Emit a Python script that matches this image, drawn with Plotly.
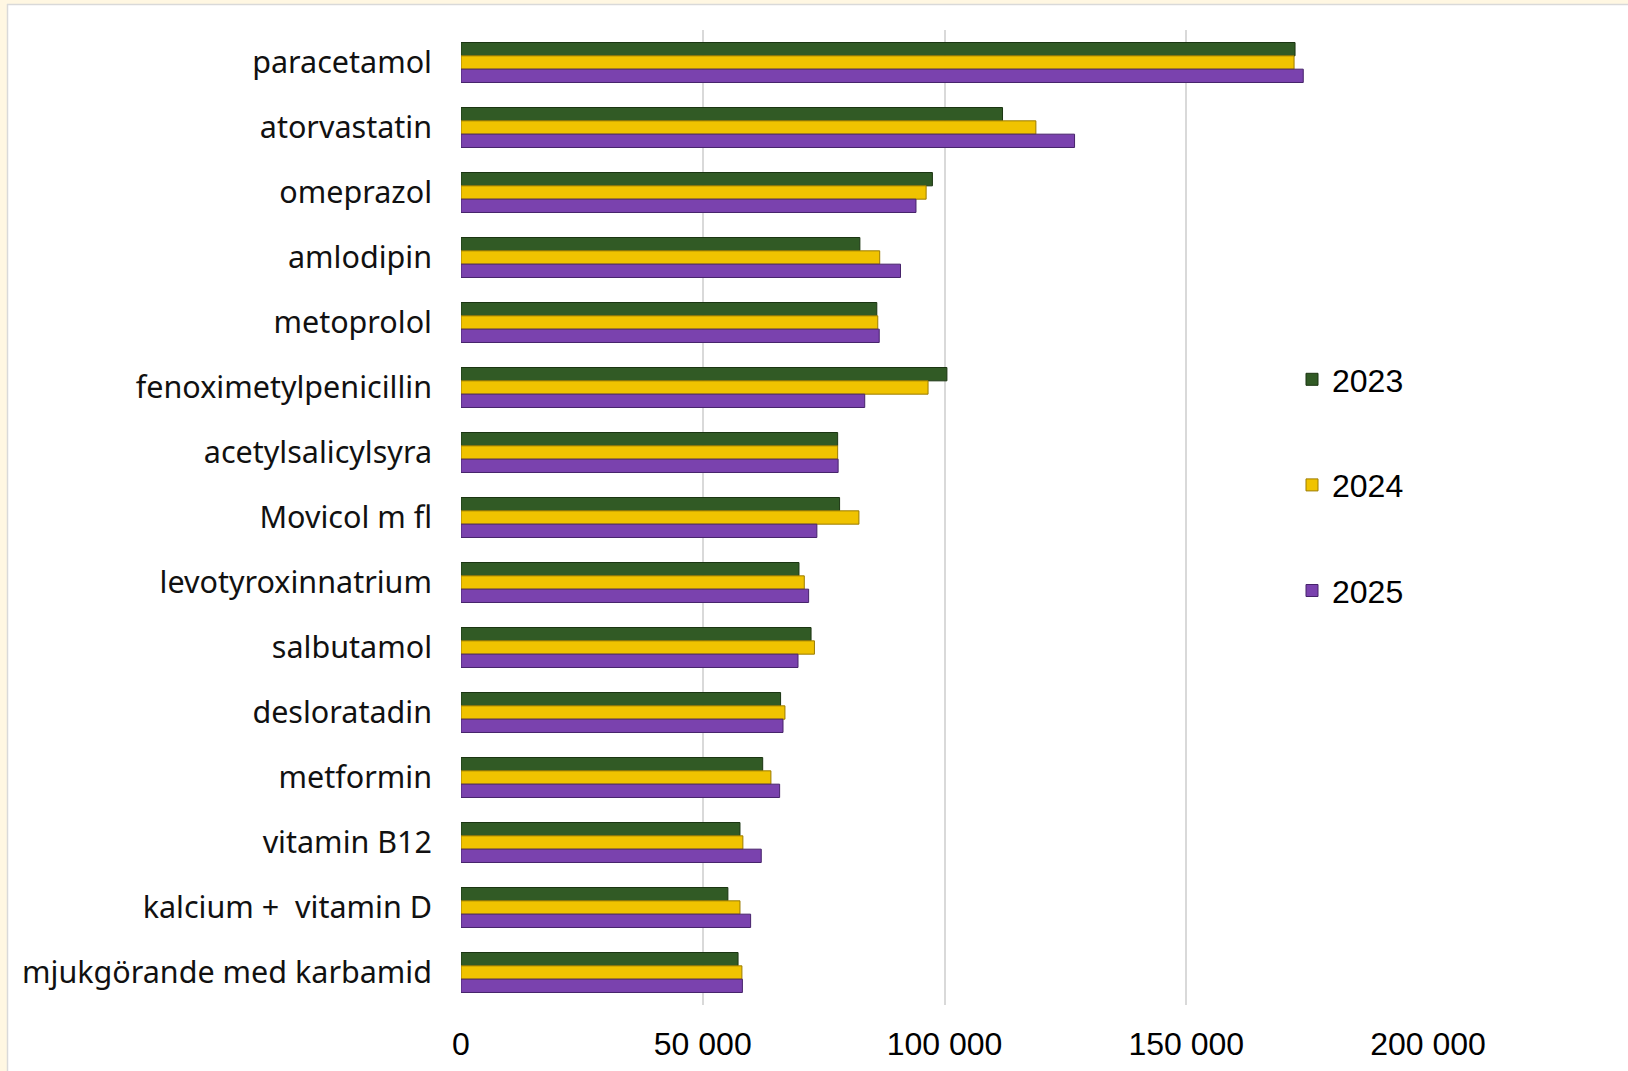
import plotly.graph_objects as go

categories = [
    "paracetamol", "atorvastatin", "omeprazol", "amlodipin", "metoprolol",
    "fenoximetylpenicillin", "acetylsalicylsyra", "Movicol m fl",
    "levotyroxinnatrium", "salbutamol", "desloratadin", "metformin",
    "vitamin B12", "kalcium +  vitamin D", "mjukgörande med karbamid",
]
years = ["2023", "2024", "2025"]
values_2023 = [172500, 112000, 97500, 82500, 86000, 100500, 77900, 78300,
               69900, 72400, 66100, 62400, 57700, 55200, 57300]
values_2024 = [172300, 118900, 96200, 86600, 86200, 96600, 77900, 82300,
               71000, 73100, 67000, 64100, 58300, 57700, 58100]
values_2025 = [174200, 126900, 94100, 90900, 86500, 83500, 78000, 73600,
               71900, 69700, 66600, 65900, 62100, 59900, 58200]
x_ticks = [0, 50000, 100000, 150000, 200000]
x_tick_labels = ["0", "50 000", "100 000", "150 000", "200 000"]

series = [values_2023, values_2024, values_2025]
fills = ["#315A25", "#F0C300", "#7A42AE"]
edges = ["#1B3512", "#9C7C00", "#46236B"]

W, H = 1628, 1071
ML, MR, MT, MB = 461, 200, 30, 66
PW = W - ML - MR
PH = H - MT - MB

def px_x(px):
    return (px - ML) / PW

def px_y(py):
    return (H - MB - py) / PH

fig = go.Figure()
for name, vals, c, e in zip(years, series, fills, edges):
    fig.add_trace(go.Bar(
        y=categories, x=vals, name=name, orientation="h",
        marker=dict(color=c, line=dict(color=e, width=1)),
        legendgroup=name,
    ))

cream = "#FFF7E2"
fig.update_layout(
    width=W, height=H,
    margin=dict(l=ML, r=MR, t=MT, b=MB, autoexpand=False),
    paper_bgcolor="white", plot_bgcolor="white",
    barmode="group", bargap=0.385, bargroupgap=0,
    font=dict(family="Liberation Sans, Arial, sans-serif", color="#000000"),
    xaxis=dict(
        range=[0, 200000], tickvals=x_ticks, ticktext=x_tick_labels,
        showgrid=True, gridcolor="#D9D9D9", gridwidth=1.5,
        zeroline=False, showline=False, ticks="", automargin=False,
        tickfont=dict(family="Liberation Sans, Arial, sans-serif", size=32, color="#000"),
        ticklabelstandoff=17,
    ),
    yaxis=dict(
        autorange="reversed", showgrid=False, zeroline=False,
        showline=False, ticks="", automargin=False,
        tickfont=dict(family="Noto Sans, sans-serif", size=30.5, color="#111"),
        ticklabelstandoff=28,
    ),
    legend=dict(
        x=px_x(1292), y=px_y(352), xanchor="left", yanchor="top",
        traceorder="grouped", tracegroupgap=61,
        font=dict(family="Liberation Sans, Arial, sans-serif", size=32, color="#000"),
        bgcolor="rgba(0,0,0,0)",
    ),
    showlegend=True,
    shapes=[
        dict(type="rect", xref="paper", yref="paper",
             x0=px_x(0), x1=px_x(W), y0=px_y(0), y1=px_y(4),
             fillcolor=cream, line=dict(width=0), layer="below"),
        dict(type="rect", xref="paper", yref="paper",
             x0=px_x(0), x1=px_x(7), y0=px_y(0), y1=px_y(H),
             fillcolor=cream, line=dict(width=0), layer="below"),
        dict(type="line", xref="paper", yref="paper",
             x0=px_x(7), x1=px_x(W), y0=px_y(4.5), y1=px_y(4.5),
             line=dict(color="#D9D9D9", width=1.5)),
        dict(type="line", xref="paper", yref="paper",
             x0=px_x(7.5), x1=px_x(7.5), y0=px_y(4), y1=px_y(H),
             line=dict(color="#D9D9D9", width=1.5)),
    ],
)

fig.write_html("out.html",
               config={"displayModeBar": False},
               post_script="document.body.style.margin='0px';")
